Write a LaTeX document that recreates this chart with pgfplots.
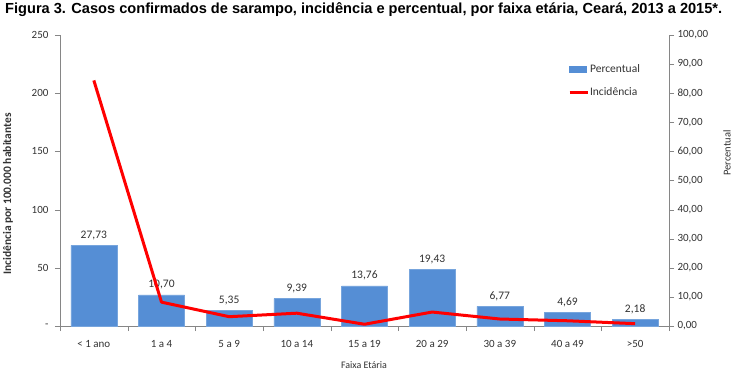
\documentclass[border=0pt]{standalone}
\usepackage{fontspec}
\setmainfont{Carlito}
\newfontfamily\titlefont{Liberation Sans}
\usepackage{pgfplots}
\pgfplotsset{compat=1.18}
\definecolor{barblue}{RGB}{85,142,213}
\definecolor{axgray}{RGB}{134,134,134}
\definecolor{txt}{RGB}{50,50,50}
\begin{document}
\begin{tikzpicture}[x=1pt,y=1pt]
\path[use as bounding box] (0,0) rectangle (732,376);
\node[anchor=west, inner sep=0pt, font=\titlefont\bfseries\fontsize{14.6}{16}\selectfont] at (5,366) {Figura 3. Casos confirmados de sarampo, incidência e percentual, por faixa etária, Ceará, 2013 a 2015*.};
% bars on right axis
\begin{axis}[
  at={(60pt,50pt)}, anchor=south west,
  width=609pt, height=291pt, scale only axis,
  xmin=-0.5, xmax=8.5, ymin=0, ymax=100,
  axis y line*=right, axis x line*=bottom,
  axis line style={draw=axgray},
  tick align=outside, major tick length=5pt, minor tick length=5pt,
  tick style={draw=axgray},
  xtick={0,...,8},
  xticklabels={< 1 ano,1 a 4,5 a 9,10 a 14,15 a 19,20 a 29,30 a 39,40 a 49,>50},
  xtick style={draw=none},
  minor xtick={-0.5,0.5,...,8.5},
  minor x tick style={draw=axgray},
  x tick label style={font=\fontsize{11}{12}\selectfont, text=txt, yshift=-6pt},
  ytick={0,10,...,100},
  yticklabel style={font=\fontsize{11}{12}\selectfont, text=txt,
    /pgf/number format/.cd, fixed, fixed zerofill, precision=2, use comma, assume math mode=true},
  scaled y ticks=false,
  clip=false,
]
\addplot[ybar, bar width=46pt, fill=barblue, draw=barblue!80!white,
  nodes near coords,
  every node near coord/.append style={font=\fontsize{11.5}{12}\selectfont, text=txt, yshift=2pt,
    /pgf/number format/.cd, fixed, fixed zerofill, precision=2, use comma, assume math mode=true}]
  coordinates {(0,27.73) (1,10.70) (2,5.35) (3,9.39) (4,13.76) (5,19.43) (6,6.77) (7,4.69) (8,2.18)};
\end{axis}
% line on left axis
\begin{axis}[
  at={(60pt,50pt)}, anchor=south west,
  width=609pt, height=291pt, scale only axis,
  xmin=-0.5, xmax=8.5, ymin=0, ymax=250,
  axis y line*=left, axis x line=none,
  axis line style={draw=axgray},
  tick align=outside, major tick length=5pt,
  tick style={draw=axgray},
  ytick={0,50,100,150,200,250},
  yticklabels={-,50,100,150,200,250},
  yticklabel style={font=\fontsize{11}{12}\selectfont, text=txt, xshift=-3pt},
  legend style={at={(0.829,0.911)}, anchor=north west, draw=none, fill=none,
    font=\fontsize{11.5}{12}\selectfont, text=txt, row sep=12pt,
    nodes={inner sep=1pt}},
  legend cell align=left,
  clip=false,
]
\addlegendimage{legend image code/.code={\fill[barblue] (0pt,-3pt) rectangle (17pt,3pt);}}
\addlegendentry{Percentual}
\addplot[red, line width=3pt, line join=round,
  legend image code/.code={\draw[red,line width=3pt] (0pt,0pt)--(18pt,0pt);}]
  coordinates {(0,211) (1,20.5) (2,8) (3,11) (4,1.5) (5,12) (6,6) (7,4.5) (8,2)};
\addlegendentry{Incidência}
\end{axis}
\node[rotate=90, font=\bfseries\fontsize{11.5}{12}\selectfont, text=txt] at (8,182) {Incidência por 100.000 habitantes};
\node[rotate=90, font=\fontsize{10.5}{12}\selectfont, text=txt] at (727,223) {Percentual};
\node[font=\fontsize{10}{12}\selectfont, text=txt] at (364,11) {Faixa Etária};
\end{tikzpicture}
\end{document}
